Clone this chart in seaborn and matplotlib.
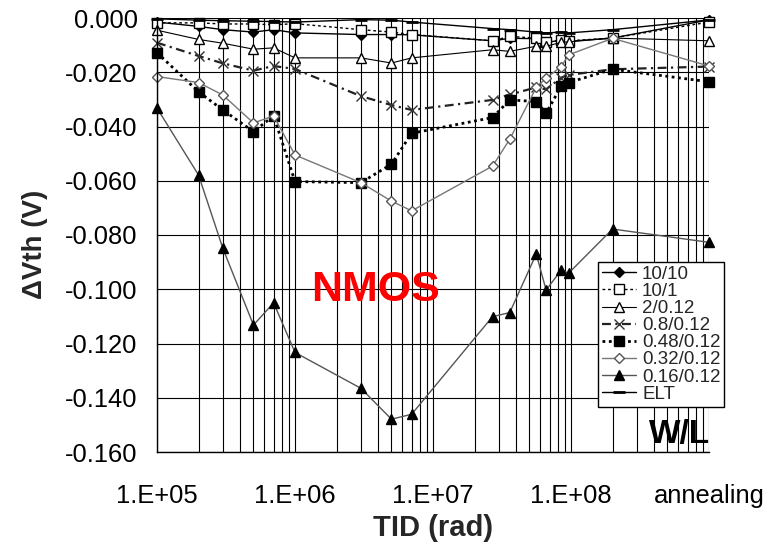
import matplotlib
matplotlib.use("Agg")
import matplotlib.pyplot as plt
from matplotlib.ticker import LogLocator, FixedLocator, FuncFormatter, NullFormatter
import numpy as np
import pandas as pd
import seaborn as sns

# Total ionizing dose steps (rad); the last step is the annealing measurement
tid = [1e5, 2e5, 3e5, 5e5, 7e5, 1e6, 3e6, 5e6, 7e6,
       2.7e7, 3.6e7, 5.6e7, 6.6e7, 8.5e7, 9.6e7, 2e8, 1e9]

wl_10_10 = [-0.0015, -0.0031, -0.0043, -0.0052, -0.0043, -0.0055, -0.0061, -0.0061, -0.0062,
            -0.0084, -0.0075, -0.0076, -0.0090, -0.0082, -0.0086, -0.0074, -0.0007]
wl_10_1 = [-0.0018, -0.0018, -0.0022, -0.0022, -0.0025, -0.0021, -0.0043, -0.0052, -0.0061,
           -0.0084, -0.0068, -0.0074, -0.0088, -0.0082, -0.0084, -0.0074, -0.0015]
wl_2_012 = [-0.0045, -0.0079, -0.0093, -0.0115, -0.0110, -0.0147, -0.0147, -0.0166, -0.0147,
            -0.0117, -0.0123, -0.0104, -0.0104, -0.0090, -0.0088, -0.0074, -0.0084]
wl_08_012 = [-0.0091, -0.0140, -0.0167, -0.0194, -0.0177, -0.0188, -0.0288, -0.0321, -0.0339,
             -0.0302, -0.0282, -0.0256, -0.0263, -0.0220, -0.0210, -0.0189, -0.0179]
wl_048_012 = [-0.0128, -0.0272, -0.0339, -0.0419, -0.0361, -0.0603, -0.0607, -0.0539, -0.0425,
              -0.0367, -0.0302, -0.0308, -0.0351, -0.0251, -0.0238, -0.0189, -0.0235]
wl_032_012 = [-0.0216, -0.0238, -0.0284, -0.0387, -0.0361, -0.0505, -0.0607, -0.0675, -0.0711,
              -0.0546, -0.0447, -0.0256, -0.0222, -0.0179, -0.0136, -0.0075, -0.0177]
wl_016_012 = [-0.0332, -0.0579, -0.0849, -0.1132, -0.1050, -0.1233, -0.1365, -0.1479, -0.1461,
              -0.1101, -0.1086, -0.0870, -0.1003, -0.0929, -0.0941, -0.0778, -0.0827]
wl_elt = [-0.0003, -0.0008, -0.0010, -0.0012, -0.0013, -0.0015, -0.0006, -0.0008, -0.0015,
          -0.0039, -0.0043, -0.0052, -0.0055, -0.0052, -0.0055, -0.0043, -0.0007]

series_labels = ["10/10", "10/1", "2/0.12", "0.8/0.12", "0.48/0.12", "0.32/0.12", "0.16/0.12", "ELT"]
series_values = [wl_10_10, wl_10_1, wl_2_012, wl_08_012, wl_048_012, wl_032_012, wl_016_012, wl_elt]

x_tick_values = [1e5, 1e6, 1e7, 1e8, 1e9]
x_tick_labels = ["1.E+05", "1.E+06", "1.E+07", "1.E+08", "annealing"]
y_tick_values = [0.0, -0.02, -0.04, -0.06, -0.08, -0.10, -0.12, -0.14, -0.16]

styles = {
    "10/10":     dict(marker="D", ms=5.5, mfc="black", mec="black", ls="-", lw=1.0, color="black"),
    "10/1":      dict(marker="s", ms=6.5, mfc="white", mec="black", ls=(0, (2, 2)), lw=1.0, color="black"),
    "2/0.12":    dict(marker="^", ms=7, mfc="white", mec="black", ls="-", lw=0.8, color="black"),
    "0.8/0.12":  dict(marker="x", ms=7, mfc="none", mec="#333333", ls=(0, (4, 2, 1, 2)), lw=1.6, color="#222222"),
    "0.48/0.12": dict(marker="s", ms=7.5, mfc="black", mec="black", ls=(0, (1, 1.3)), lw=2.0, color="black"),
    "0.32/0.12": dict(marker="D", ms=5, mfc="white", mec="#555555", ls="-", lw=1.0, color="#777777"),
    "0.16/0.12": dict(marker="^", ms=7.5, mfc="black", mec="black", ls="-", lw=1.0, color="#555555"),
    "ELT":       dict(marker="_", ms=9, mfc="black", mec="black", mew=2, ls="-", lw=1.0, color="black"),
}

sns.set_style("white")
plt.rcParams["font.family"] = ["Liberation Sans", "DejaVu Sans"]

W, H = 781, 549
fig = plt.figure(figsize=(W / 100, H / 100), dpi=100)
ax = fig.add_axes([157 / W, 1 - 452 / H, (709 - 157) / W, (452 - 18) / H])

for label, values in zip(series_labels, series_values):
    st = dict(styles[label])
    color = st.pop("color")
    ls = st.pop("ls")
    lw = st.pop("lw")
    df = pd.DataFrame({"tid": tid, "dvth": values})
    sns.lineplot(data=df, x="tid", y="dvth", ax=ax, estimator=None, sort=False,
                 color=color, linestyle=ls, linewidth=lw, label=label,
                 markeredgewidth=st.pop("mew", 1.0), clip_on=False, **st)

ax.set_xscale("log")
ax.set_xlim(1e5, 1e9)
ax.set_ylim(-0.16, 0.0)

ax.xaxis.set_major_locator(FixedLocator(x_tick_values))
ax.set_xticklabels(x_tick_labels)
ax.xaxis.set_minor_locator(LogLocator(base=10, subs=np.arange(2, 10)))
ax.xaxis.set_minor_formatter(NullFormatter())
ax.yaxis.set_major_locator(FixedLocator(y_tick_values))
ax.yaxis.set_major_formatter(FuncFormatter(lambda v, p: "%.3f" % (0.0 if abs(v) < 1e-9 else v)))

ax.grid(which="both", axis="x", color="black", linewidth=0.8)
ax.grid(which="major", axis="y", color="black", linewidth=0.8)
ax.set_axisbelow(True)

for side in ["top", "right"]:
    ax.spines[side].set_visible(False)
for side in ["left", "bottom"]:
    ax.spines[side].set_color("black")
    ax.spines[side].set_linewidth(1.0)

ax.tick_params(axis="both", which="major", direction="out", length=9, width=1,
               color="black", labelsize=18.4, labelcolor="black", pad=5)
ax.tick_params(axis="x", which="minor", length=0)
ax.tick_params(axis="x", which="major", pad=14)

ax.set_xlabel("TID (rad)", fontsize=21, fontweight="bold", labelpad=4)
ax.set_ylabel("\u0394Vth (V)", fontsize=20, fontweight="bold")
ax.yaxis.set_label_coords(-0.197, 0.479)

# annotations placed in figure pixel coordinates measured from the top-left corner
fig.text(376 / W, 1 - 290 / H, "NMOS", color="red", fontsize=31, fontweight="bold",
         ha="center", va="center")
fig.text(680 / W, 1 - 435 / H, "W/L", color="black", fontsize=24, fontweight="bold",
         ha="center", va="center")

leg = ax.legend(loc="upper left", bbox_to_anchor=((598 - 157) / 552, (452 - 262) / 434),
                frameon=True, fancybox=False, framealpha=1, edgecolor="black",
                fontsize=13.5, labelspacing=0.0, handlelength=1.8, handletextpad=0.35,
                borderpad=0.2, borderaxespad=0)
leg.get_frame().set_linewidth(1.0)
leg.set_zorder(10)

fig.savefig("out.png", dpi=100)
